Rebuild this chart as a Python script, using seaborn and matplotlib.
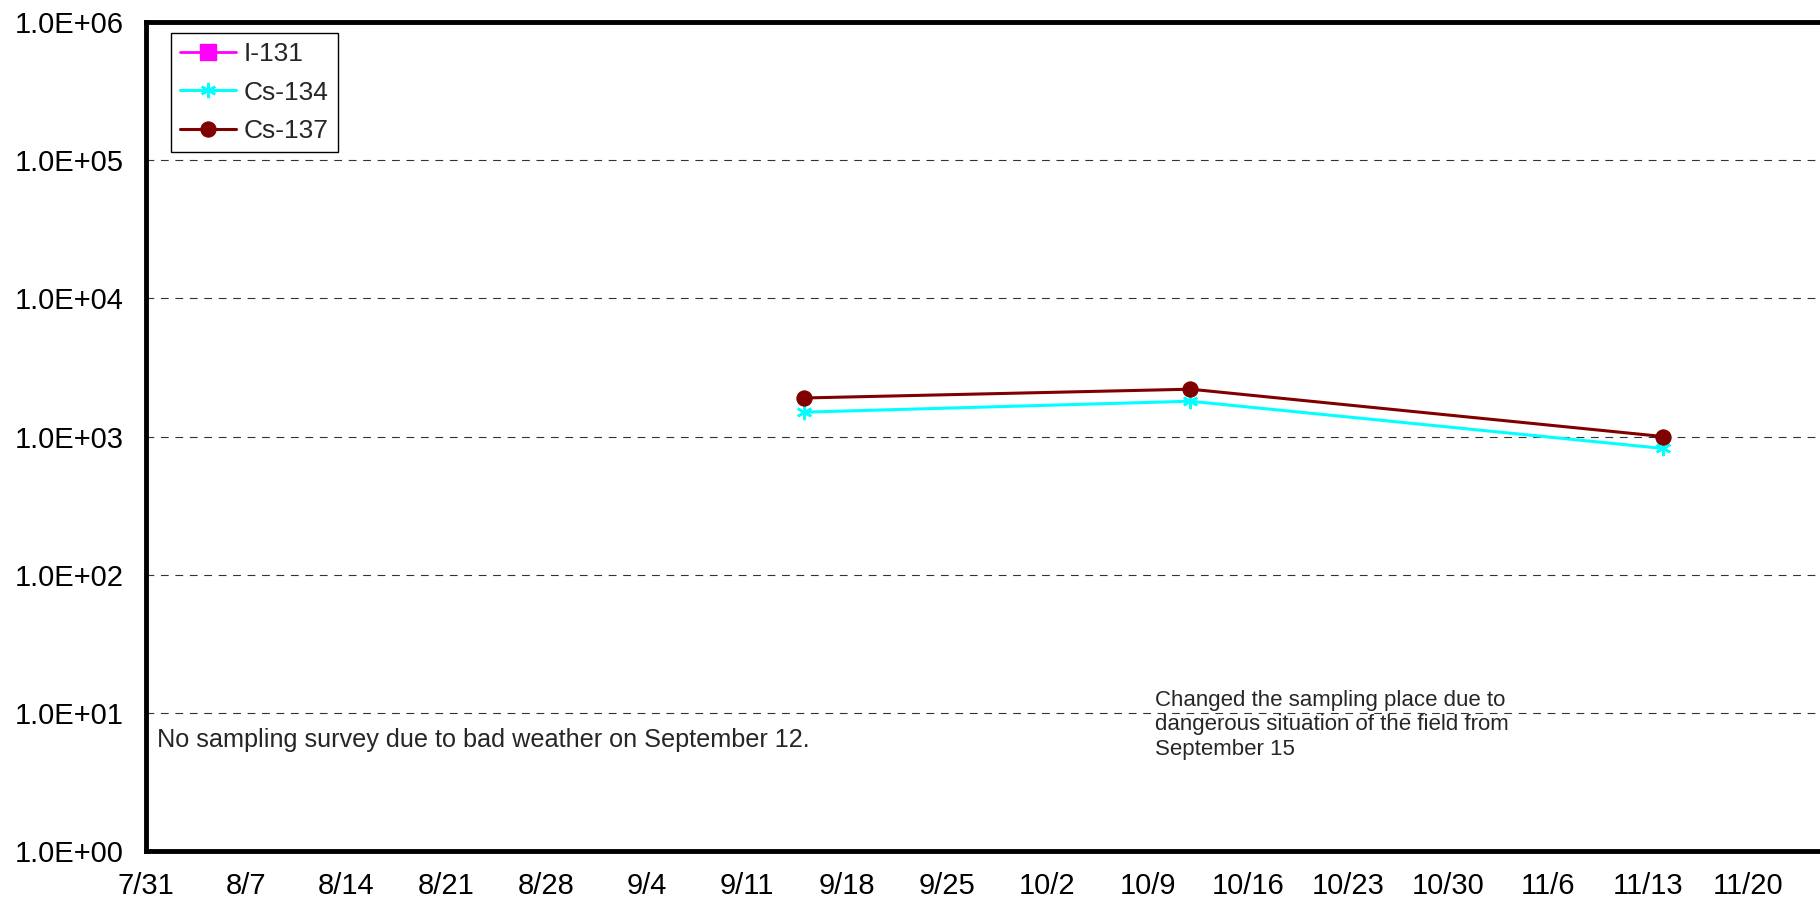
import pandas as pd
import numpy as np
import matplotlib
matplotlib.use("Agg")
import matplotlib.pyplot as plt
import matplotlib.dates as mdates
from matplotlib.ticker import FixedLocator, FuncFormatter, NullLocator
import seaborn as sns

sample_dates = ["2011-09-15", "2011-10-12", "2011-11-14"]
i131 = []  # not detected, only in legend
cs134 = [1.5e3, 1.8e3, 8.2e2]
cs137 = [1.9e3, 2.2e3, 1.0e3]

x_start = "2011-07-31"
x_end = "2011-11-25"
tick_dates = pd.date_range(x_start, "2011-11-20", freq="7D")
y_ticks = [1e0, 1e1, 1e2, 1e3, 1e4, 1e5, 1e6]

note_weather = "No sampling survey due to bad weather on September 12."
note_place = "Changed the sampling place due to\ndangerous situation of the field from\nSeptember 15"

sns.set_style("white")
plt.rcParams['font.family'] = ['Liberation Sans', 'DejaVu Sans']

fig = plt.figure(figsize=(18.2, 9.06), dpi=100)
ax = fig.add_axes([146 / 1820, 55 / 906, 1 - 146 / 1820, 829 / 906])

dates = pd.to_datetime(sample_dates)

# I-131 has no data points, legend entry only
ax.plot([], [], color="#FF00FF", marker="s", markersize=11, lw=2, label="I-131")
sns.lineplot(x=dates, y=cs134, ax=ax, color="#00FFFF", marker=(6, 2, 0),
             markersize=11, markeredgecolor="#00FFFF", markeredgewidth=1.8,
             lw=2.2, label="Cs-134")
sns.lineplot(x=dates, y=cs137, ax=ax, color="#800000", marker="o",
             markersize=11, markeredgecolor="#800000", lw=2.2, label="Cs-137")

ax.set_yscale("log")
ax.set_ylim(1, 1e6)
ax.yaxis.set_major_locator(FixedLocator(y_ticks))
ax.yaxis.set_minor_locator(NullLocator())
ax.yaxis.set_major_formatter(FuncFormatter(lambda v, p: f"{v:.1E}"))

ax.set_xlim(pd.Timestamp(x_start), pd.Timestamp(x_end))
ax.xaxis.set_major_locator(FixedLocator(mdates.date2num(tick_dates)))
ax.xaxis.set_major_formatter(FuncFormatter(
    lambda v, p: f"{mdates.num2date(v).month}/{mdates.num2date(v).day}"))

ax.grid(True, axis="y", color="#333333", lw=0.8, linestyle=(0, (7, 6)))
ax.grid(False, axis="x")
ax.set_axisbelow(True)

ax.tick_params(axis="y", length=0, pad=16, labelsize=21, colors="black")
ax.tick_params(axis="x", direction="in", length=6, width=0.8, pad=15,
               labelsize=21, colors="black")
ax.set_xlabel("")
ax.set_ylabel("")

for side in ["left", "top", "bottom"]:
    ax.spines[side].set_color("black")
    ax.spines[side].set_linewidth(3.5)
ax.spines["right"].set_visible(False)

ax.text(0.0066, 0.148, note_weather, transform=ax.transAxes, fontsize=18.2,
        va="top", ha="left")
ax.text(0.603, 0.194, note_place, transform=ax.transAxes, fontsize=16,
        va="top", ha="left", linespacing=1.2)

leg = ax.legend(loc="upper left", bbox_to_anchor=(0.0149, 0.987),
                borderaxespad=0, fontsize=19, frameon=True, fancybox=False,
                edgecolor="black", framealpha=1, handlelength=2.1,
                handletextpad=0.3, labelspacing=0.55, borderpad=0.35)
leg.get_frame().set_linewidth(1.0)

fig.savefig("out.png", dpi=100)
